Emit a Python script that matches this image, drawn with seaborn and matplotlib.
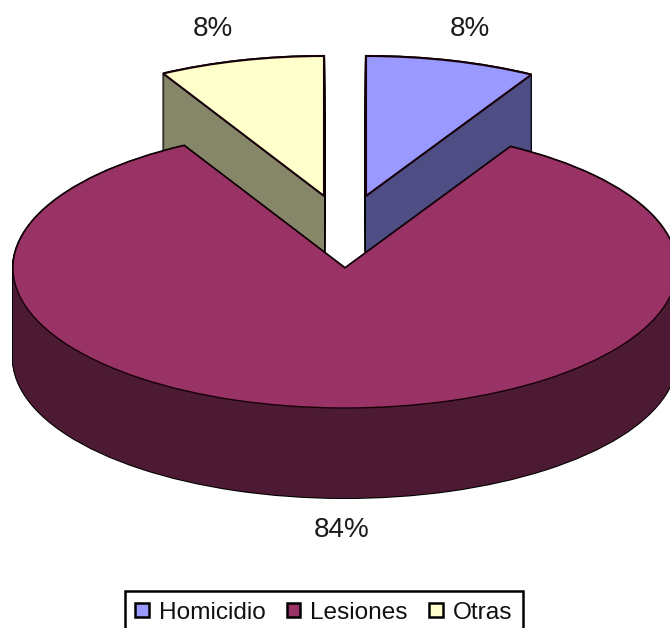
import matplotlib
matplotlib.use("Agg")
import matplotlib.pyplot as plt
from matplotlib.patches import Patch
import seaborn as sns

categories = ["Homicidio", "Lesiones", "Otras"]
shares = [8.3, 83.65, 8.05]
pct_labels = ["8%", "84%", "8%"]
face_colors = ["#9999FF", "#993366", "#FFFFCC"]
side_colors = ["#4E4E84", "#4D1A33", "#868668"]

sns.set_theme(style="white")
plt.rcParams["font.family"] = ["Liberation Sans", "DejaVu Sans"]

W, H = 670, 628
CX, CY, RX, RY = 345, 268, 332, 140   # pie centre and ellipse radii in pixels
DEPTH = 90
offsets = [(21, 72), (0, 0), (-21, 72)]  # pixel explosion of each slice
top_edge_widths = [1.5, 1.0, 1.5]

fig = plt.figure(figsize=(W / 100, H / 100), dpi=100, facecolor="white")
ax = fig.add_axes([0, 0, 1, 1])


def slice_layer(i, dx, dy, color, edge, lw, z):
    wedges, _ = ax.pie(
        shares, startangle=90, counterclock=False,
        center=(dx / RX, -dy / RY), radius=1,
        colors=[color] * 3,
        wedgeprops=dict(edgecolor=edge, linewidth=lw, joinstyle="miter"),
    )
    for j, w in enumerate(wedges):
        if j == i:
            w.set_zorder(z)
        else:
            w.remove()


z = 1
for i in [0, 2, 1]:
    ox, oy = offsets[i]
    oy_sign = -oy
    # silhouette of the extruded side
    for d in range(0, DEPTH + 1, 1):
        slice_layer(i, ox, oy_sign + d, side_colors[i], "black", 1.5, z)
    z += 1
    for d in range(0, DEPTH + 1, 1):
        slice_layer(i, ox, oy_sign + d, side_colors[i], "none", 0, z)
    z += 1
    slice_layer(i, ox, oy_sign, face_colors[i], "#150008", top_edge_widths[i], z)
    z += 1

ax.set_aspect("auto")
ax.set_xlim(-CX / RX, (W - CX) / RX)
ax.set_ylim(-(H - CY) / RY, CY / RY)
ax.set_axis_off()

label_pos = [(470, 29), (342, 530), (213, 29)]
for txt, (px, py) in zip(pct_labels, label_pos):
    fig.text(px / W, 1 - py / H, txt, ha="center", va="center",
             fontsize=20, color="#1c1c1c", zorder=50)

handles = [Patch(facecolor=c, edgecolor="black", linewidth=1.8) for c in face_colors]
leg = fig.legend(
    handles, categories, ncol=3, loc="lower left",
    bbox_to_anchor=(125 / W, -6 / H), bbox_transform=fig.transFigure,
    fontsize=17.6, frameon=True, fancybox=False, framealpha=1,
    edgecolor="black", borderpad=0.42, borderaxespad=0,
    handlelength=0.55, handleheight=0.55, handletextpad=0.41,
    columnspacing=0.88,
)
leg.get_frame().set_linewidth(1.8)
for t in leg.get_texts():
    t.set_color("#111111")

fig.savefig("out.png", dpi=100, facecolor="white")
